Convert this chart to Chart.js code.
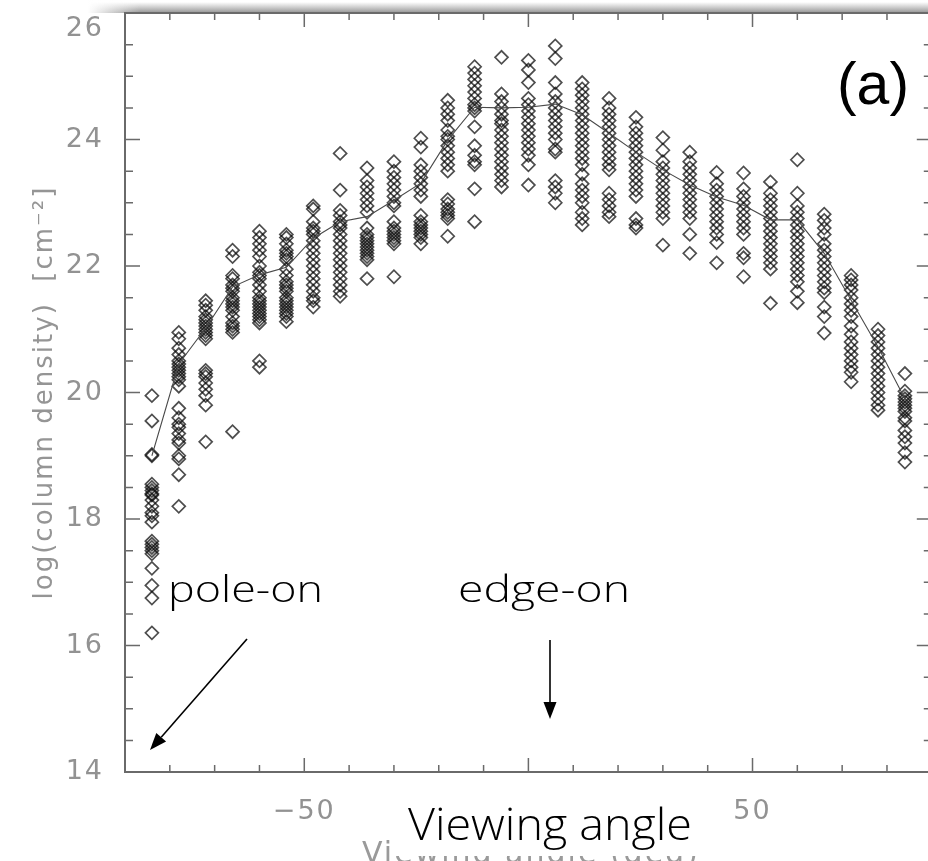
<!DOCTYPE html>
<html>
<head>
<meta charset="utf-8">
<script src="https://cdn.jsdelivr.net/npm/chart.js@4"></script>
<style>
  html, body { margin: 0; padding: 0; background: #fff; overflow: hidden; }
  #wrap { width: 940px; height: 861px; }
</style>
</head>
<body>
<div id="wrap"><canvas id="nh-chart"></canvas></div>
<script>
// viewing angle of each sightline bundle (deg)
const angles = [-84, -78, -72, -66, -60, -54, -48, -42, -36, -30, -24, -18, -12, -6, 0,
  6, 12, 18, 24, 30, 36, 42, 48, 54, 60, 66, 72, 78, 84];

// log column density samples at each angle
const densitySamples = [
  [19.95, 19.55, 19.0, 19.02, 18.55, 18.5, 18.45, 18.4, 18.38, 18.3, 18.2, 18.1, 18.05, 17.95, 17.65, 17.6, 17.55, 17.5, 17.45, 17.22, 16.95, 16.75, 16.2],
  [20.95, 20.85, 20.7, 20.6, 20.5, 20.45, 20.4, 20.35, 20.3, 20.25, 20.2, 20.1, 19.75, 19.6, 19.5, 19.45, 19.35, 19.25, 19.2, 19.0, 18.95, 18.7, 18.2],
  [21.45, 21.38, 21.3, 21.2, 21.15, 21.1, 21.05, 21.0, 20.95, 20.9, 20.85, 20.35, 20.3, 20.25, 20.15, 20.05, 19.95, 19.8, 19.22],
  [22.25, 22.15, 21.85, 21.8, 21.7, 21.65, 21.6, 21.5, 21.45, 21.4, 21.35, 21.3, 21.2, 21.1, 21.05, 21.0, 20.95, 19.38],
  [22.55, 22.45, 22.35, 22.25, 22.15, 22.0, 21.9, 21.85, 21.8, 21.7, 21.6, 21.5, 21.45, 21.4, 21.35, 21.3, 21.25, 21.2, 21.15, 21.1, 20.5, 20.4],
  [22.5, 22.45, 22.35, 22.25, 22.2, 22.15, 22.1, 21.95, 21.85, 21.75, 21.7, 21.65, 21.6, 21.5, 21.45, 21.4, 21.35, 21.3, 21.25, 21.2, 21.12],
  [22.95, 22.9, 22.7, 22.6, 22.55, 22.5, 22.4, 22.3, 22.2, 22.1, 22.0, 21.9, 21.8, 21.7, 21.6, 21.5, 21.45, 21.35],
  [23.78, 23.2, 22.88, 22.8, 22.7, 22.65, 22.6, 22.5, 22.4, 22.3, 22.2, 22.1, 22.0, 21.9, 21.8, 21.7, 21.6, 21.52],
  [23.55, 23.35, 23.25, 23.15, 23.05, 22.95, 22.85, 22.6, 22.5, 22.45, 22.4, 22.35, 22.3, 22.25, 22.2, 22.15, 22.1, 21.8],
  [23.65, 23.5, 23.4, 23.3, 23.2, 23.1, 23.0, 22.95, 22.7, 22.6, 22.55, 22.5, 22.45, 22.4, 22.35, 21.83],
  [24.02, 23.88, 23.6, 23.5, 23.4, 23.3, 23.2, 23.1, 22.8, 22.7, 22.65, 22.6, 22.55, 22.5, 22.45, 22.35],
  [24.62, 24.5, 24.4, 24.3, 24.15, 24.05, 24.0, 23.9, 23.8, 23.7, 23.6, 23.5, 23.05, 22.98, 22.9, 22.85, 22.8, 22.75, 22.47],
  [25.15, 25.05, 24.95, 24.85, 24.75, 24.65, 24.55, 24.5, 24.45, 24.2, 23.9, 23.75, 23.65, 23.6, 23.22, 22.7],
  [25.3, 24.72, 24.6, 24.5, 24.4, 24.3, 24.25, 24.15, 24.05, 23.95, 23.85, 23.75, 23.65, 23.55, 23.45, 23.35, 23.25],
  [25.25, 25.1, 24.9, 24.65, 24.55, 24.45, 24.35, 24.25, 24.15, 24.05, 23.95, 23.85, 23.75, 23.6, 23.28],
  [25.48, 25.28, 24.9, 24.72, 24.6, 24.5, 24.4, 24.3, 24.2, 24.1, 24.0, 23.85, 23.8, 23.35, 23.25, 23.15, 23.0],
  [24.9, 24.8, 24.7, 24.6, 24.5, 24.4, 24.3, 24.2, 24.1, 24.0, 23.9, 23.8, 23.7, 23.6, 23.45, 23.3, 23.2, 23.1, 23.0, 22.85, 22.75, 22.65],
  [24.65, 24.5, 24.4, 24.3, 24.2, 24.1, 24.0, 23.9, 23.8, 23.7, 23.6, 23.52, 23.15, 23.05, 22.95, 22.85, 22.78],
  [24.35, 24.2, 24.1, 24.0, 23.9, 23.8, 23.7, 23.6, 23.5, 23.4, 23.3, 23.2, 23.1, 22.75, 22.65, 22.6],
  [24.03, 23.83, 23.65, 23.55, 23.45, 23.35, 23.25, 23.15, 23.05, 22.95, 22.85, 22.75, 22.33],
  [23.8, 23.65, 23.55, 23.45, 23.35, 23.25, 23.15, 23.05, 22.95, 22.85, 22.75, 22.5, 22.2],
  [23.48, 23.3, 23.2, 23.1, 23.0, 22.9, 22.8, 22.7, 22.6, 22.5, 22.37, 22.05],
  [23.47, 23.22, 23.1, 23.0, 22.9, 22.8, 22.7, 22.6, 22.5, 22.2, 22.13, 21.83],
  [23.33, 23.15, 23.05, 22.95, 22.85, 22.75, 22.65, 22.55, 22.45, 22.35, 22.25, 22.15, 22.05, 21.95, 21.41],
  [23.68, 23.15, 22.95, 22.85, 22.75, 22.65, 22.55, 22.45, 22.35, 22.25, 22.15, 22.05, 21.95, 21.85, 21.75, 21.6, 21.42],
  [22.82, 22.72, 22.6, 22.5, 22.35, 22.25, 22.15, 22.05, 21.95, 21.85, 21.75, 21.65, 21.58, 21.35, 21.2, 20.94],
  [21.85, 21.78, 21.7, 21.62, 21.5, 21.4, 21.3, 21.2, 21.05, 20.92, 20.8, 20.7, 20.6, 20.5, 20.4, 20.32, 20.17],
  [21.0, 20.9, 20.8, 20.7, 20.6, 20.5, 20.4, 20.3, 20.2, 20.1, 20.0, 19.9, 19.8, 19.72],
  [20.3, 20.02, 19.95, 19.9, 19.85, 19.8, 19.75, 19.7, 19.6, 19.55, 19.4, 19.3, 19.2, 19.05, 18.9]
];

// averaged curve through the samples
const trendLine = [19.0, 20.45, 21.02, 21.67, 21.86, 21.98, 22.44, 22.70, 22.78, 23.04, 23.31, 23.99, 24.51, 24.50,
  24.51, 24.56, 24.39, 24.10, 23.80, 23.52, 23.28, 23.09, 22.96, 22.73, 22.73, 22.20, 21.46, 20.72, 19.9];

const xTickLabels = [-50, 0, 50];
const yTickLabels = [14, 16, 18, 20, 22, 24, 26];

const scatterPoints = [];
angles.forEach((a, i) => {
  densitySamples[i].forEach(v => scatterPoints.push({ x: a, y: v }));
});
const trendPoints = angles.map((a, i) => ({ x: a, y: trendLine[i] }));

const tickFont = { family: "'DejaVu Sans', sans-serif", size: 27, weight: 'normal' };

// gray shadow strip along the top edge + wider glyph spacing for axis text
const frameDecor = {
  id: 'frameDecor',
  beforeDraw(chart) {
    const ctx = chart.ctx;
    ctx.save();
    const g = ctx.createLinearGradient(0, 2, 0, 13);
    g.addColorStop(0, 'rgba(150,150,150,0)');
    g.addColorStop(1, 'rgba(140,140,140,0.95)');
    ctx.fillStyle = g;
    ctx.fillRect(88, 2, 852, 11);
    const fade = ctx.createLinearGradient(88, 0, 140, 0);
    fade.addColorStop(0, 'rgba(255,255,255,1)');
    fade.addColorStop(1, 'rgba(255,255,255,0)');
    ctx.fillStyle = fade;
    ctx.fillRect(88, 0, 52, 13);
    ctx.restore();
    ctx.letterSpacing = '2px';
  },
  afterDatasetsDraw(chart) {
    const { ctx, chartArea: { left, right, top, bottom }, scales: { x, y } } = chart;
    ctx.save();
    ctx.strokeStyle = '#6a6a6a';
    ctx.lineWidth = 1.5;
    ctx.beginPath();
    x.ticks.forEach(t => {
      const px = x.getPixelForValue(t.value);
      const len = t.value % 50 === 0 ? 14 : 7;
      ctx.moveTo(px, bottom); ctx.lineTo(px, bottom - len);
      ctx.moveTo(px, top); ctx.lineTo(px, top + len);
    });
    y.ticks.forEach(t => {
      const py = y.getPixelForValue(t.value);
      const len = t.value % 2 === 0 ? 15 : 8;
      ctx.moveTo(left, py); ctx.lineTo(left + len, py);
      ctx.moveTo(right, py); ctx.lineTo(right - len, py);
    });
    ctx.stroke();
    ctx.lineWidth = 2;
    ctx.strokeRect(left, top, right - left, bottom - top);
    ctx.restore();
  }
};

function arrow(ctx, x0, y0, x1, y1) {
  const ang = Math.atan2(y1 - y0, x1 - x0);
  const hl = 17, hw = 6.5;
  ctx.beginPath();
  ctx.moveTo(x0, y0);
  ctx.lineTo(x1 - Math.cos(ang) * hl, y1 - Math.sin(ang) * hl);
  ctx.stroke();
  ctx.beginPath();
  ctx.moveTo(x1, y1);
  ctx.lineTo(x1 - Math.cos(ang) * hl - Math.sin(ang) * hw, y1 - Math.sin(ang) * hl + Math.cos(ang) * hw);
  ctx.lineTo(x1 - Math.cos(ang) * hl + Math.sin(ang) * hw, y1 - Math.sin(ang) * hl - Math.cos(ang) * hw);
  ctx.closePath();
  ctx.fill();
}

function wideText(ctx, text, x, y, width) {
  const w = ctx.measureText(text).width;
  ctx.save();
  ctx.translate(x, y);
  ctx.scale(width / w, 1);
  ctx.fillText(text, 0, 0);
  ctx.restore();
}

// labels, arrows and the caption patch on top of the plot
const annotations = {
  id: 'annotations',
  afterDraw(chart) {
    const ctx = chart.ctx;
    ctx.save();
    ctx.letterSpacing = '2px';
    ctx.textAlign = 'left';
    ctx.textBaseline = 'alphabetic';
    ctx.fillStyle = '#9a9a9a';
    ctx.font = "30px 'DejaVu Sans'";
    ctx.fillText('Viewing angle (deg)', 362, 863);

    ctx.letterSpacing = '0px';
    ctx.fillStyle = '#fff';
    ctx.fillRect(390, 786, 306, 70);

    ctx.fillStyle = '#000';
    ctx.font = "300 44px 'Open Sans'";
    wideText(ctx, 'Viewing angle', 408, 840, 284);

    ctx.font = "60px 'Liberation Sans'";
    wideText(ctx, '(a)', 837, 104, 72);

    ctx.font = "300 37px 'Open Sans'";
    wideText(ctx, 'pole-on', 168, 602, 155);
    wideText(ctx, 'edge-on', 458, 602, 172);

    ctx.strokeStyle = '#000';
    ctx.lineWidth = 1.6;
    arrow(ctx, 247, 639, 150, 750);
    arrow(ctx, 550, 640, 550, 719);
    ctx.restore();
  }
};

const ctx = document.getElementById('nh-chart').getContext('2d');
new Chart(ctx, {
  type: 'scatter',
  data: {
    datasets: [
      {
        type: 'line',
        label: 'trend',
        data: trendPoints,
        borderColor: '#4a4a4a',
        borderWidth: 1.1,
        pointRadius: 0,
        fill: false,
        tension: 0
      },
      {
        label: 'samples',
        data: scatterPoints,
        pointStyle: 'rectRot',
        pointRadius: 6.5,
        backgroundColor: 'rgba(0,0,0,0)',
        borderColor: 'rgba(10,10,10,0.72)',
        borderWidth: 1.7
      }
    ]
  },
  options: {
    responsive: true,
    maintainAspectRatio: false,
    animation: false,
    layout: { padding: { top: 13, right: 6, left: 0, bottom: 0 } },
    plugins: { legend: { display: false }, tooltip: { enabled: false } },
    scales: {
      x: {
        type: 'linear',
        min: -90,
        max: 90,
        grid: { display: false },
        border: { display: false },
        ticks: {
          stepSize: 10,
          autoSkip: false,
          maxRotation: 0,
          padding: 16,
          color: '#929292',
          font: tickFont,
          callback: v => xTickLabels.includes(v) ? String(v).replace('-', '\u2212') : ''
        },
        afterFit: scale => {
          scale.height = 89;
          scale.paddingLeft = 0;
          scale.paddingRight = 0;
        }
      },
      y: {
        min: 14,
        max: 26,
        grid: { display: false },
        border: { display: false },
        ticks: {
          stepSize: 0.5,
          autoSkip: false,
          padding: 13,
          color: '#929292',
          font: tickFont,
          callback: v => yTickLabels.includes(v) ? (v === 26 ? ['', '26'] : String(v)) : ''
        },
        title: {
          display: true,
          text: 'log(column density)  [cm\u207B\u00B2]',
          color: '#959595',
          font: { family: "'DejaVu Sans', sans-serif", size: 26, weight: 'normal' },
          padding: { top: 30, bottom: 0 }
        },
        afterFit: scale => {
          scale.width = 125;
          scale.paddingTop = 0;
          scale.paddingBottom = 0;
        }
      }
    }
  },
  plugins: [frameDecor, annotations]
});
</script>
</body>
</html>
